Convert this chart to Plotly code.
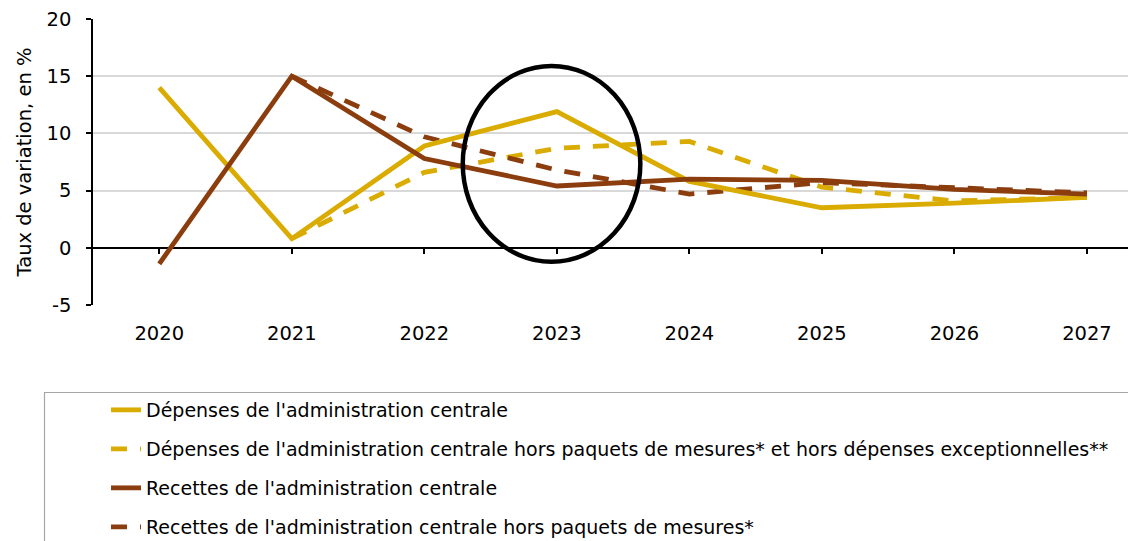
import plotly.graph_objects as go

years = ["2020", "2021", "2022", "2023", "2024", "2025", "2026", "2027"]
dep = [14.0, 0.8, 8.9, 11.9, 5.8, 3.5, 3.9, 4.4]
dep_hors = [None, 0.8, 6.6, 8.7, 9.3, 5.3, 4.1, 4.4]
rec = [-1.4, 15.0, 7.8, 5.4, 6.0, 5.9, 5.1, 4.7]
rec_hors = [None, 15.0, 9.7, 6.8, 4.7, 5.7, 5.2, 4.8]
ytick_vals = [-5, 0, 5, 10, 15, 20]
ytick_text = ["-5", "0", "5", "10", "15", "20"]

names = [
    "Dépenses de l'administration centrale",
    "Dépenses de l'administration centrale hors paquets de mesures* et hors dépenses exceptionnelles**",
    "Recettes de l'administration centrale",
    "Recettes de l'administration centrale hors paquets de mesures*",
]
GOLD = "#DAAB00"
BROWN = "#8B3D0E"
FONT = "DejaVu Sans"
FS = 19.5
LFS = 19

W, H = 1136, 541
OFF = 8  # page offset of the figure div
L, R, T = 85, 8, 11
B = H - (305 - OFF)
pw, ph = W - L - R, H - T - B


def px(page_x):
    return (page_x - OFF - L) / pw


def py(page_y):
    return (T + ph - (page_y - OFF)) / ph


series = [(dep, GOLD, "solid"), (dep_hors, GOLD, "16px,13px"),
          (rec, BROWN, "solid"), (rec_hors, BROWN, "16px,13px")]
traces = []
for i, (vals, col, dash) in enumerate(series):
    traces.append(go.Scatter(
        x=years, y=vals, mode="lines", name=names[i], legendgroup=f"g{i}",
        legendrank=i + 1,
        line=dict(color=col, width=4.8, dash=dash), connectgaps=False,
    ))

# dashed lines underneath, solid lines on top
fig = go.Figure(data=[traces[1], traces[3], traces[0], traces[2]])

ypos0 = (0 - (-5)) / 25.0
fig.update_layout(
    width=W, height=H,
    margin=dict(l=L, r=R, t=T, b=B, pad=0, autoexpand=False),
    paper_bgcolor="white", plot_bgcolor="white",
    font=dict(family=FONT, size=FS, color="#000000"),
    showlegend=True,
    legend=dict(
        x=px(106), y=py(391), xanchor="left", yanchor="top",
        traceorder="grouped", tracegroupgap=11.3, bgcolor="rgba(0,0,0,0)",
        font=dict(family=FONT, size=LFS, color="#000000"),
    ),
    xaxis=dict(
        type="category", range=[-0.5, 7.37],
        anchor="free", position=ypos0, automargin=False,
        showline=False, ticks="outside", ticklen=5, tickcolor="black",
        tickwidth=1.5, ticklabelstandoff=63, ticklabeloverflow="allow",
        showgrid=False, zeroline=False,
        tickfont=dict(family=FONT, size=FS, color="#000000"),
    ),
    yaxis=dict(
        range=[-5, 20], tickmode="array", tickvals=ytick_vals, ticktext=ytick_text,
        automargin=False, ticklabeloverflow="allow",
        showline=True, linecolor="black", linewidth=1.5,
        ticks="outside", ticklen=5, tickcolor="black", tickwidth=1.5,
        ticklabelstandoff=11,
        showgrid=True, gridcolor="#D9D9D9", gridwidth=1.5,
        zeroline=True, zerolinecolor="black", zerolinewidth=1.5,
        tickfont=dict(family=FONT, size=FS, color="#000000"),
        title=dict(text="Taux de variation, en %", standoff=10,
                   font=dict(family=FONT, size=FS, color="#000000")),
    ),
    shapes=[
        dict(type="circle", xref="x", yref="y",
             x0=2.29, x1=3.63, y0=-1.22, y1=15.9,
             line=dict(color="black", width=4.5), layer="above"),
        dict(type="rect", xref="paper", yref="paper",
             x0=px(44.5), x1=px(1150),
             y0=py(560), y1=py(392.5),
             line=dict(color="#A6A6A6", width=1.2), layer="above"),
    ],
)

fig.write_html("out.html")
